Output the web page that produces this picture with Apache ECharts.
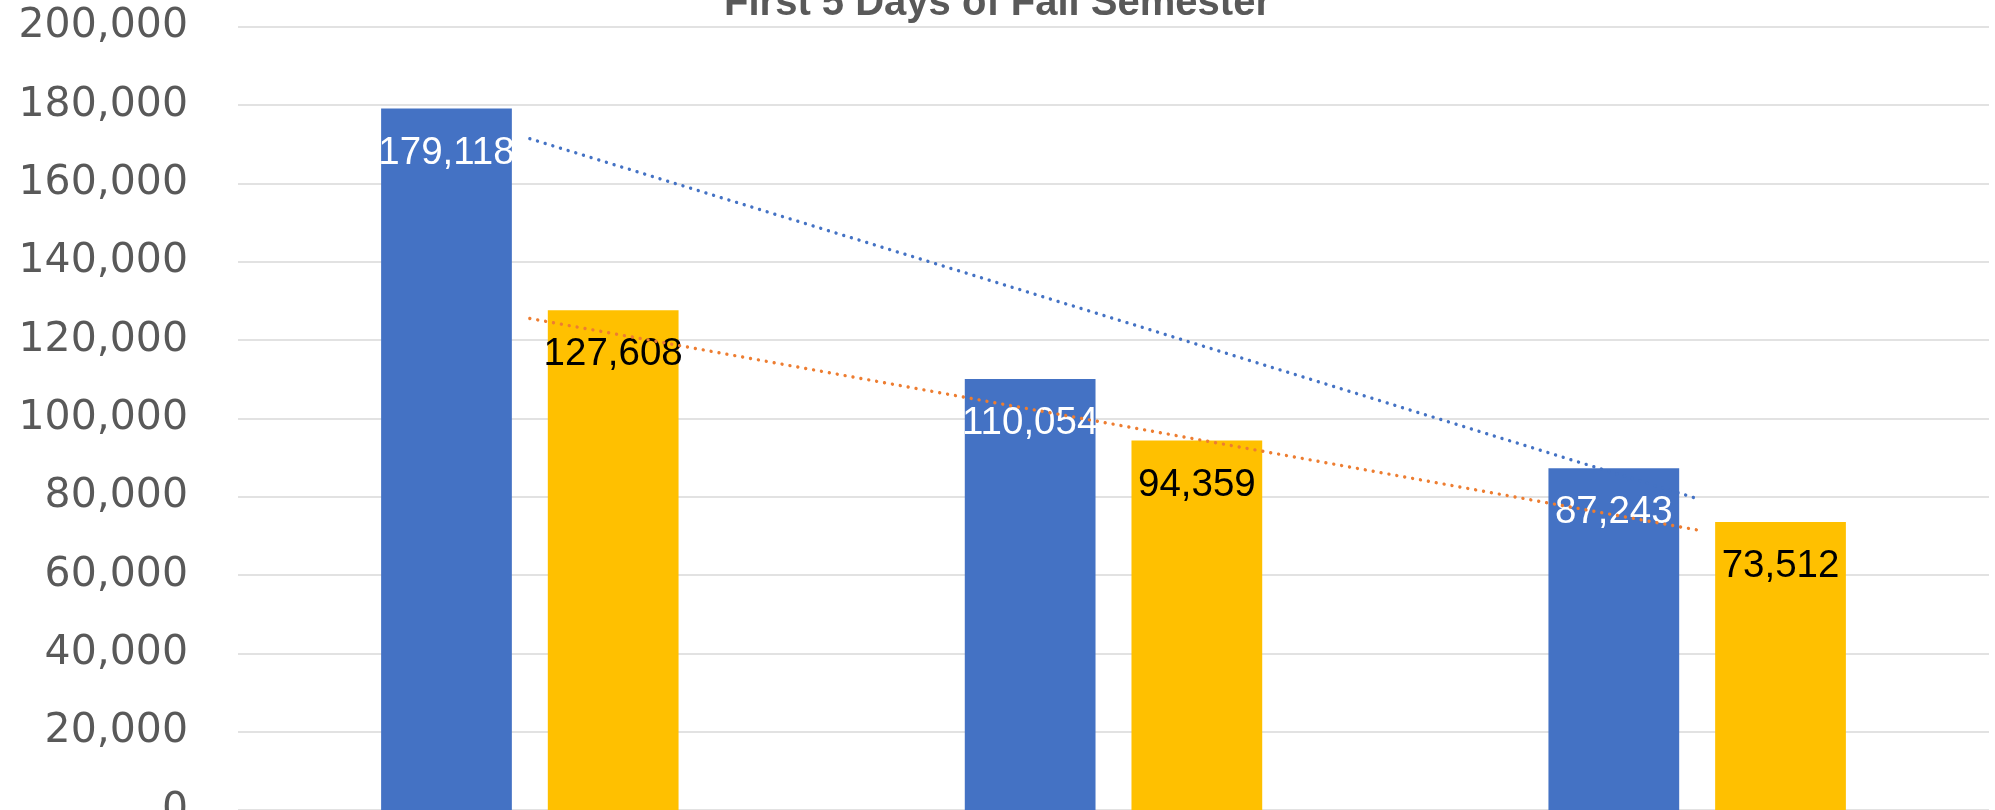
<!DOCTYPE html>
<html>
<head>
<meta charset="utf-8">
<script src="https://cdn.jsdelivr.net/npm/echarts@6/dist/echarts.min.js"></script>
<style>
html,body{margin:0;padding:0;background:#fff;}
#chart{width:1995px;height:810px;}
</style>
</head>
<body>
<div id="chart"></div>
<script>
// Data
const titleText = 'First 5 Days of Fall Semester';
const categories = ['Fall 2019', 'Fall 2020', 'Fall 2021'];
const seriesAValues = [179118, 110054, 87243];
const seriesBValues = [127608, 94359, 73512];
// Linear trend lines as drawn in the picture (values at category centres)
const seriesATrend = [171400, 125500, 79500];
const seriesBTrend = [125500, 98500, 71500];
const yTicks = { min: 0, max: 200000, interval: 20000 };

const fmt = v => Number(v).toLocaleString('en-US');

const chart = echarts.init(document.getElementById('chart'), null, { renderer: 'canvas' });
chart.setOption({
  backgroundColor: '#ffffff',
  animation: false,
  title: {
    text: titleText,
    left: 'center',
    top: -16,
    padding: 0,
    textStyle: {
      fontFamily: 'Liberation Sans',
      fontWeight: 'bold',
      fontSize: 40,
      color: '#595959'
    }
  },
  grid: { left: 238, right: 6, top: 26.7, bottom: 0, containLabel: false, outerBoundsMode: 'none' },
  xAxis: {
    type: 'category',
    data: categories,
    axisLine: { show: false },
    axisTick: { show: false },
    axisLabel: { show: true, color: '#595959', fontSize: 30 }
  },
  yAxis: {
    type: 'value',
    min: yTicks.min,
    max: yTicks.max,
    interval: yTicks.interval,
    axisLine: { show: false },
    axisTick: { show: false },
    splitLine: { lineStyle: { color: '#d9d9d9', width: 1.5 } },
    axisLabel: {
      margin: 50,
      color: '#595959',
      fontFamily: 'DejaVu Sans',
      fontSize: 41,
      padding: [0, 0, 16, 0],
      formatter: fmt
    }
  },
  series: [
    {
      name: 'A',
      type: 'bar',
      data: seriesAValues,
      barWidth: '22.4%',
      barGap: '27.5%',
      itemStyle: { color: '#4472C4' },
      label: {
        show: true,
        position: 'insideTop',
        distance: 25,
        color: '#ffffff',
        fontFamily: 'Liberation Sans',
        fontSize: 38.5,
        formatter: p => fmt(p.value)
      },
      z: 2
    },
    {
      name: 'B',
      type: 'bar',
      data: seriesBValues,
      barWidth: '22.4%',
      barGap: '27.5%',
      itemStyle: { color: '#FFC000' },
      label: {
        show: true,
        position: 'insideTop',
        distance: 25,
        color: '#000000',
        fontFamily: 'Liberation Sans',
        fontSize: 38.5,
        formatter: p => fmt(p.value)
      },
      z: 2
    },
    {
      name: 'A trend',
      type: 'line',
      data: seriesATrend,
      symbol: 'none',
      silent: true,
      lineStyle: { color: '#4472C4', width: 3.4, type: [0.01, 8], cap: 'round' },
      z: 5
    },
    {
      name: 'B trend',
      type: 'line',
      data: seriesBTrend,
      symbol: 'none',
      silent: true,
      lineStyle: { color: '#ED7D31', width: 3.4, type: [0.01, 8], cap: 'round' },
      z: 5
    }
  ]
});
</script>
</body>
</html>
